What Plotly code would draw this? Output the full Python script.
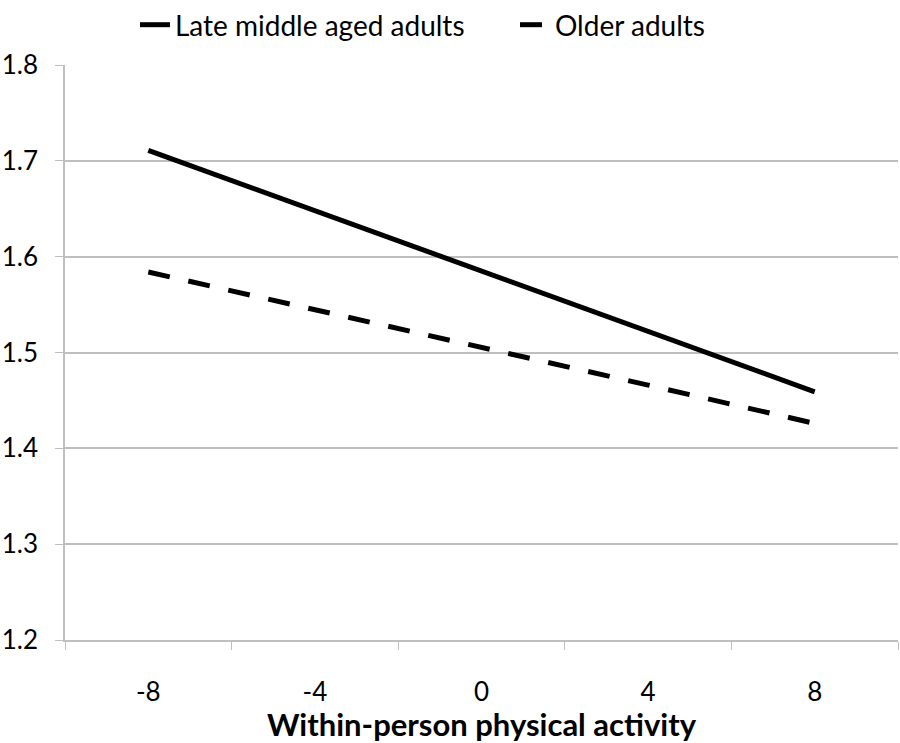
import plotly.graph_objects as go

categories = [-8, -4, 0, 4, 8]
late_middle = [1.711, 1.648, 1.585, 1.522, 1.459]
older = [1.584, 1.545, 1.505, 1.466, 1.426]
y_ticks = [1.2, 1.3, 1.4, 1.5, 1.6, 1.7, 1.8]
boundaries = [-10, -6, -2, 2, 6, 10]

FONT = "Lato"
GRID = "#bfbfbf"

fig = go.Figure()
fig.add_trace(go.Scatter(x=categories, y=late_middle, mode="lines",
                         name="Late middle aged adults",
                         line=dict(color="black", width=5)))
fig.add_trace(go.Scatter(x=categories, y=older, mode="lines",
                         name="Older adults",
                         line=dict(color="black", width=5, dash="22px,19px")))

fig.update_layout(
    width=900, height=743,
    margin=dict(l=65, r=2, t=65, b=103),
    paper_bgcolor="white", plot_bgcolor="white",
    font=dict(family=FONT, color="black", size=22),
    showlegend=True,
    legend=dict(orientation="h", x=0.084, xanchor="left", y=1.0, yanchor="top",
                yref="container", font=dict(size=28, family=FONT),
                entrywidth=335, tracegroupgap=0),
    xaxis=dict(range=[-10, 10], tickvals=boundaries, ticktext=[""] * len(boundaries),
               ticks="outside", ticklen=8, tickcolor=GRID, showgrid=False,
               showline=True, linecolor=GRID, linewidth=1.5, zeroline=False,
               automargin=False),
    xaxis2=dict(range=[-10, 10], overlaying="x", side="bottom", anchor="y",
                tickvals=categories, ticktext=[str(c) for c in categories],
                showgrid=False, zeroline=False, showline=False,
                ticks="", tickfont=dict(size=26, family=FONT),
                ticklabelstandoff=34, automargin=False,
                title=dict(text="<b>Within-person physical activity</b>",
                           font=dict(size=31, family=FONT), standoff=10)),
    yaxis=dict(range=[1.2, 1.8], tickvals=y_ticks,
               ticktext=[f"{v:.1f}" for v in y_ticks],
               ticks="outside", ticklen=8, tickcolor=GRID,
               showgrid=True, gridcolor=GRID, gridwidth=1.5,
               showline=True, linecolor=GRID, linewidth=1.5, zeroline=False,
               tickfont=dict(size=26, family=FONT), ticklabelstandoff=12,
               automargin=False),
)
# dummy trace to activate xaxis2
fig.add_trace(go.Scatter(x=categories, y=late_middle, xaxis="x2", mode="none",
                         showlegend=False, hoverinfo="skip"))

fig.write_html("out.html", config={"displayModeBar": False},
               post_script="document.body.style.margin='0';")
